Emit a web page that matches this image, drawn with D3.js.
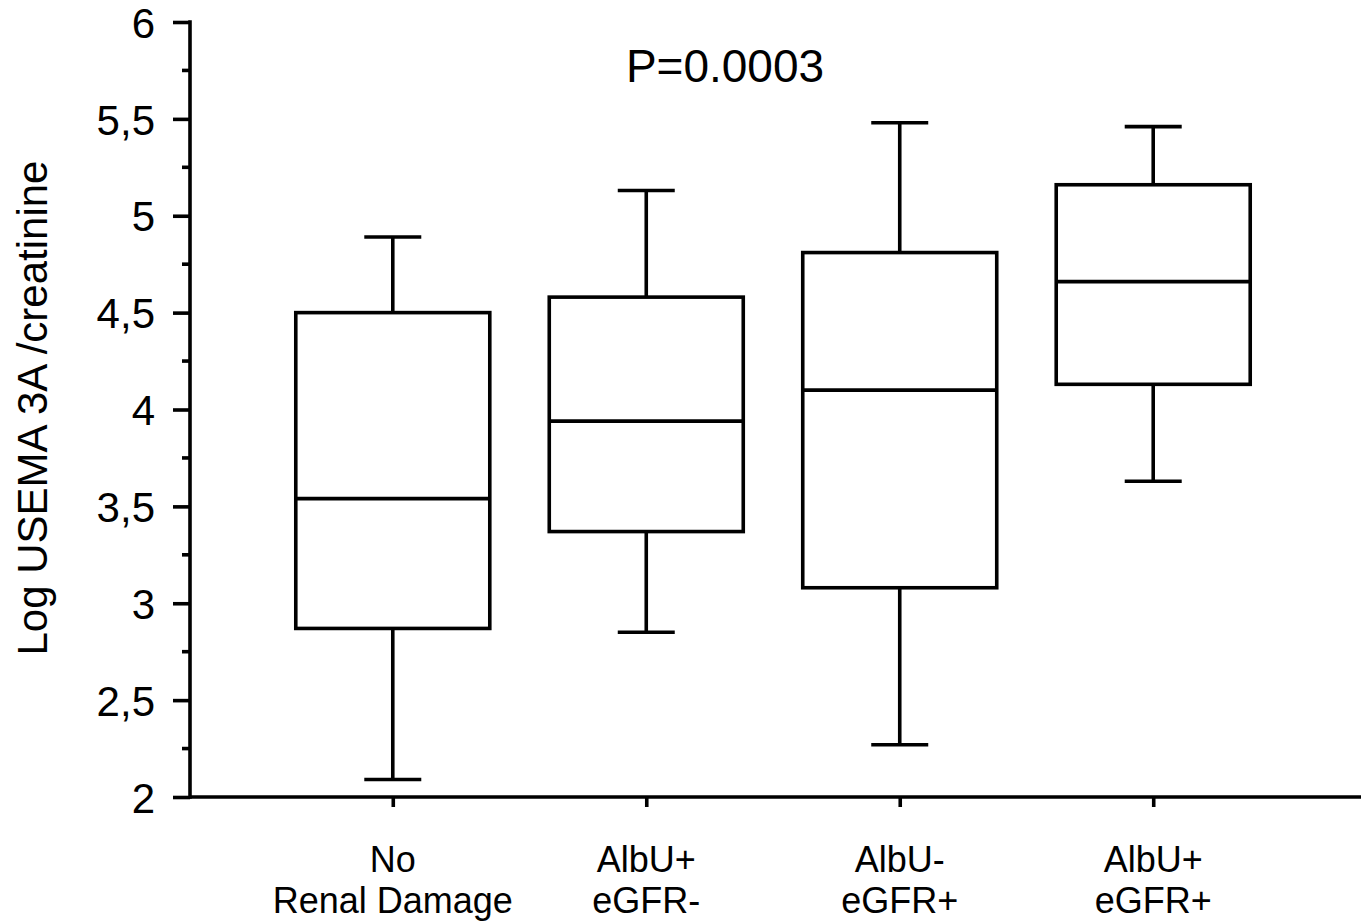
<!DOCTYPE html>
<html>
<head>
<meta charset="utf-8">
<script src="https://cdn.jsdelivr.net/npm/d3@7/dist/d3.min.js"></script>
<style>
  body { margin: 0; background: #fff; }
  svg text { font-family: "Liberation Sans", Arial, sans-serif; fill: #000; }
</style>
</head>
<body>
<svg id="chart" width="1361" height="923"></svg>
<script>
const groups = ['No|Renal Damage', 'AlbU+|eGFR-', 'AlbU-|eGFR+', 'AlbU+|eGFR+'];
const mins = [2.09, 2.85, 2.27, 3.63];
const q1s = [2.87, 3.37, 3.08, 4.13];
const medians = [3.54, 3.94, 4.10, 4.66];
const q3s = [4.50, 4.58, 4.81, 5.16];
const maxs = [4.89, 5.13, 5.48, 5.46];
const yTicks = [2, 2.5, 3, 3.5, 4, 4.5, 5, 5.5, 6];
const yMinorTicks = [2.25, 2.75, 3.25, 3.75, 4.25, 4.75, 5.25, 5.75];
const pLabel = 'P=0.0003';
const yTitle = 'Log USEMA 3A /creatinine';

const data = groups.map((g, i) => ({
  group: g, min: mins[i], q1: q1s[i], median: medians[i], q3: q3s[i], max: maxs[i]
}));

const svg = d3.select('#chart');
const x = d3.scalePoint().domain(groups).range([190, 1356]).padding(0.8);
const y = d3.scaleLinear().domain([2, 6]).range([797, 22]);

const boxW = 194;
const capW = 57;
const sw = 3.6;

// y axis
const axisY = d3.axisLeft(y)
  .tickValues(yTicks)
  .tickSize(17)
  .tickPadding(18)
  .tickFormat(d => String(d).replace('.', ','));

const gy = svg.append('g')
  .attr('transform', 'translate(190,0)')
  .call(axisY);
gy.select('.domain').remove();
gy.selectAll('line').attr('stroke', '#000').attr('stroke-width', sw);
gy.selectAll('text').style('font-size', '42px').attr('dy', '0.36em');

svg.append('g').selectAll('line')
  .data(yMinorTicks)
  .join('line')
  .attr('x1', 182).attr('x2', 190)
  .attr('y1', d => y(d)).attr('y2', d => y(d))
  .attr('stroke', '#000').attr('stroke-width', sw);

svg.append('line')
  .attr('x1', 190).attr('x2', 190)
  .attr('y1', y(6) - sw / 2).attr('y2', y(2) + sw / 2)
  .attr('stroke', '#000').attr('stroke-width', sw);

// x axis
const axisX = d3.axisBottom(x).tickSize(10).tickFormat('');
const gx = svg.append('g')
  .attr('transform', `translate(0,${y(2)})`)
  .call(axisX);
gx.select('.domain').remove();
gx.selectAll('line').attr('stroke', '#000').attr('stroke-width', sw);

svg.append('line')
  .attr('x1', 190).attr('x2', 1361)
  .attr('y1', y(2)).attr('y2', y(2))
  .attr('stroke', '#000').attr('stroke-width', sw);

// category labels
const labels = svg.append('g').selectAll('text')
  .data(groups)
  .join('text')
  .attr('x', d => x(d))
  .attr('y', 872)
  .attr('text-anchor', 'middle')
  .style('font-size', '36px');
labels.selectAll('tspan')
  .data(d => d.split('|'))
  .join('tspan')
  .attr('x', function () { return x(d3.select(this.parentNode).datum()); })
  .attr('dy', (d, i) => i === 0 ? 0 : 41)
  .text(d => d);

// boxes
const boxes = svg.append('g').selectAll('g')
  .data(data)
  .join('g')
  .attr('fill', 'none')
  .attr('stroke', '#000')
  .attr('stroke-width', sw);

boxes.append('line')
  .attr('x1', d => x(d.group)).attr('x2', d => x(d.group))
  .attr('y1', d => y(d.max)).attr('y2', d => y(d.q3));
boxes.append('line')
  .attr('x1', d => x(d.group)).attr('x2', d => x(d.group))
  .attr('y1', d => y(d.q1)).attr('y2', d => y(d.min));
boxes.append('line')
  .attr('x1', d => x(d.group) - capW / 2).attr('x2', d => x(d.group) + capW / 2)
  .attr('y1', d => y(d.max)).attr('y2', d => y(d.max));
boxes.append('line')
  .attr('x1', d => x(d.group) - capW / 2).attr('x2', d => x(d.group) + capW / 2)
  .attr('y1', d => y(d.min)).attr('y2', d => y(d.min));
boxes.append('rect')
  .attr('x', d => x(d.group) - boxW / 2)
  .attr('y', d => y(d.q3))
  .attr('width', boxW)
  .attr('height', d => y(d.q1) - y(d.q3))
  .attr('fill', '#fff');
boxes.append('line')
  .attr('x1', d => x(d.group) - boxW / 2).attr('x2', d => x(d.group) + boxW / 2)
  .attr('y1', d => y(d.median)).attr('y2', d => y(d.median));

// p value
svg.append('text')
  .attr('x', 725)
  .attr('y', 82)
  .attr('text-anchor', 'middle')
  .style('font-size', '46px')
  .text(pLabel);

// y title
svg.append('text')
  .attr('transform', 'translate(47,408) rotate(-90)')
  .attr('text-anchor', 'middle')
  .style('font-size', '42px')
  .text(yTitle);
</script>
</body>
</html>
